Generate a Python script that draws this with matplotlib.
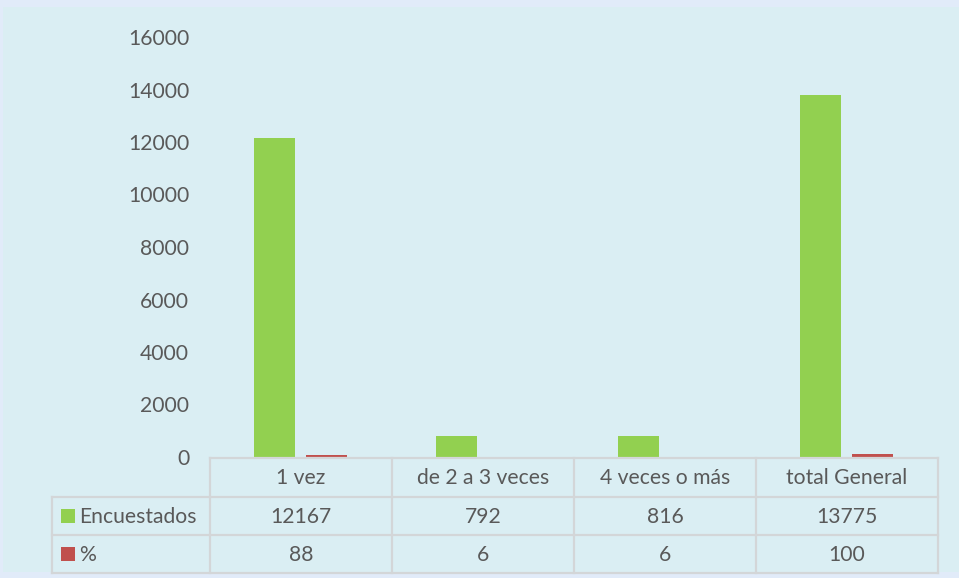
import matplotlib
matplotlib.use("Agg")
import matplotlib.pyplot as plt
from matplotlib.patches import Rectangle
from matplotlib.lines import Line2D

categories = ["1 vez", "de 2 a 3 veces", "4 veces o más", "total General"]
encuestados = [12167, 792, 816, 13775]
porcentaje = [88, 6, 6, 100]
series_names = ["Encuestados", "%"]
yticks = [0, 2000, 4000, 6000, 8000, 10000, 12000, 14000, 16000]

W, H = 959, 578
GREEN = "#92D050"
RED = "#C0504D"
TXT = "#595959"
GRID = "#D3D6D8"
FONT = "Lato"
FS = 15.2

fig = plt.figure(figsize=(W / 100, H / 100), dpi=100)
fig.patch.set_facecolor("#E1EBF9")
fig.patches.append(Rectangle((3 / W, 1 - 572 / H), (W - 3) / W, (572 - 7) / H,
                             transform=fig.transFigure, facecolor="#DAEEF3",
                             edgecolor="none", zorder=-5))

def fx(px):
    return px / W

def fy(py):
    return 1 - py / H

x0, x1 = 210, 938
y0, y1 = 457, 37
ax = fig.add_axes([fx(x0), fy(y0), fx(x1 - x0), (y0 - y1) / H])
ax.set_zorder(2)
ax.set_facecolor("none")
for s in ax.spines.values():
    s.set_visible(False)
ax.set_xlim(-0.5, len(categories) - 0.5)
ax.set_ylim(0, 16000)
ax.set_yticks(yticks)
ax.set_yticklabels([str(t) for t in yticks], fontsize=FS, color=TXT, family=FONT)
ax.tick_params(axis="y", length=0, pad=15)
ax.set_xticks([])

xs = range(len(categories))
bw = 0.225
ax.bar([x - 0.148 for x in xs], encuestados, width=bw, color=GREEN, zorder=3)
ax.bar([x + 0.138 for x in xs], porcentaje, width=bw, color=RED, zorder=3)

# data table
def line(xa, ya, xb, yb):
    fig.add_artist(Line2D([fx(xa), fx(xb)], [fy(ya), fy(yb)], color=GRID,
                          lw=1.6, transform=fig.transFigure, zorder=5))

rows = [458, 497, 535, 573]
left = 52
colw = (x1 - x0) / len(categories)
line(x0, rows[0], x1, rows[0])
for r in rows[1:]:
    line(left, r, x1, r)
for i in range(len(categories) + 1):
    line(x0 + i * colw, rows[0], x0 + i * colw, rows[3])
line(left, rows[1], left, rows[3])

for i, c in enumerate(categories):
    cx = x0 + (i + 0.5) * colw
    fig.text(fx(cx), fy((rows[0] + rows[1]) / 2 + 1), c, ha="center", va="center",
             fontsize=FS, color=TXT, family=FONT)
    fig.text(fx(cx), fy((rows[1] + rows[2]) / 2 + 1), str(encuestados[i]), ha="center",
             va="center", fontsize=FS, color=TXT, family=FONT)
    fig.text(fx(cx), fy((rows[2] + rows[3]) / 2 + 1), str(porcentaje[i]), ha="center",
             va="center", fontsize=FS, color=TXT, family=FONT)

for j, (name, col) in enumerate(zip(series_names, [GREEN, RED])):
    yc = (rows[j + 1] + rows[j + 2]) / 2
    fig.patches.append(Rectangle((fx(61), fy(yc + 7)), 14 / W, 14 / H,
                                 transform=fig.transFigure, facecolor=col,
                                 edgecolor="none", zorder=5))
    fig.text(fx(79), fy(yc + 1), name, ha="left", va="center", fontsize=FS,
             color=TXT, family=FONT)

fig.savefig("out.png", dpi=100, facecolor=fig.get_facecolor())
